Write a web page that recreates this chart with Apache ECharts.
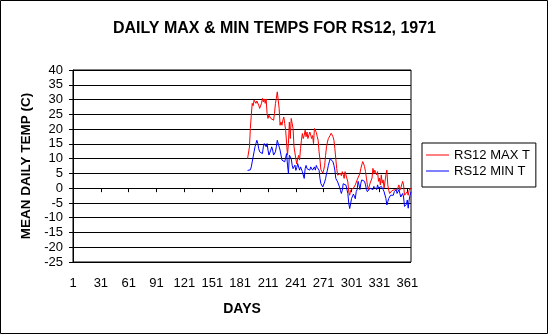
<!DOCTYPE html>
<html>
<head>
<meta charset="utf-8">
<script src="https://cdn.jsdelivr.net/npm/echarts@6/dist/echarts.min.js"></script>
<style>
  html, body { margin: 0; padding: 0; background: #fff; }
  #chart { width: 549px; height: 335px; }
</style>
</head>
<body>
<div id="chart"></div>
<script>
// Daily temperatures at station RS12, 1971 (degrees C)
const firstDay = 189;          // first day of year with readings
const dayCount = 365;

const maxTemps = [
  10.0, 10.5, 13.9, 20.2, 24.7, 28.7, 27.9, 29.8, 30.2, 28.7,
  29.5, 29.2, 28.1, 27.0, 27.5, 28.7, 30.4, 29.2, 30.2, 28.7,
  30.2, 25.3, 23.6, 24.7, 24.2, 23.6, 24.2, 24.0, 23.0, 25.3,
  28.7, 30.4, 32.6, 33.2, 27.0, 21.3, 22.4, 21.3, 23.0, 24.1,
  21.9, 19.6, 19.1, 11.2, 15.1, 22.4, 16.8, 23.6, 23.6, 20.2,
  14.0, 13.4, 9.9, 8.2, 10.0,
  11.1, 9.5, 13.4, 16.2, 18.5, 16.8, 17.9, 19.6, 17.4, 19.0,
  16.8, 17.2, 19.0, 18.0, 16.8, 17.8, 15.1, 20.2, 19.6, 18.9, 17.5,
  16.2, 12.3, 9.5, 6.2, 5.6, 5.1, 6.2, 7.7, 11.1, 14.0,
  15.6, 16.8, 16.3, 17.9, 18.6, 19.0, 17.4, 16.2, 13.4, 10.0, 6.6,
  4.4, 5.0, 3.8, 5.0, 4.2, 5.6, 4.6, 3.3, 5.6, 5.0,
  5.4, 2.1, -1.3, -2.4, -0.7, -1.2,
  -0.5, 0.0, -0.5, 1.1, 1.7, 2.8, 3.4, 2.8, 5.0, 6.7,
  7.9, 9.0, 8.2, 7.3, 5.6, 3.4, 1.1, -0.5, 0.0, 1.7,
  2.3, 3.4, 6.7, 5.0, 6.1, 5.2, 4.5, 5.6, 2.3, 3.4,
  1.1, 4.5, 1.7, 2.8, 0.0, 0.6, 4.5, 6.1, 1.1, -0.7,
  -1.8, -1.2, -1.0, -0.7, -1.2, -0.5, -0.7, 0.0, -0.7, -0.5,
  1.1, -0.7, 0.0, -0.5, 2.3, 1.1, -2.4, -2.9, -2.0, -1.2,
  -2.4, -0.7, 0.0, -0.5
];

const minTemps = [
  6.0, 6.0, 6.0, 6.2, 7.2, 8.9, 10.6, 12.3, 14.0, 15.1,
  16.2, 15.1, 13.4, 12.3, 11.7, 12.9, 11.7, 14.0, 15.1, 15.1,
  14.0, 15.1, 12.9, 11.2, 11.7, 12.9, 14.0, 12.9, 11.2, 11.7,
  12.3, 14.0, 16.2, 16.8, 15.6, 12.9, 11.2, 9.5, 8.9, 8.9,
  8.9, 9.5, 11.7, 7.8, 5.0, 11.2, 10.6, 10.0, 7.8, 6.6,
  6.0, 7.8, 6.0, 7.0, 8.3,
  8.3, 6.1, 7.2, 7.7, 5.6, 6.1, 3.3, 6.6, 7.7, 6.6,
  7.2, 6.6, 6.1, 7.2, 6.6, 6.1, 6.6, 7.2, 6.1, 7.7, 7.0,
  7.2, 6.1, 3.2, 1.5, 1.0, 0.4, 0.4, 2.1, 3.2, 4.9,
  6.1, 7.7, 8.9, 10.0, 10.3, 10.6, 8.9, 7.7, 6.1, 3.3, 2.8,
  2.1, 1.5, 0.4, -0.7, -1.8, -0.7, 1.5, 1.0, 2.1, 1.0,
  0.4, -1.8, -5.2, -6.9, -5.2, -3.5,
  -3.0, -2.0, -1.5, -3.6, -1.2, -0.5, 2.3, 1.1, -0.5, 1.7,
  2.8, 3.4, 3.0, 2.3, 1.1, -0.5, -1.2, -1.8, -1.2, 0.0,
  0.6, 0.0, -0.5, 0.6, 0.0, 0.3, -0.5, 1.1, 0.0, -0.5,
  0.0, 0.6, 0.0, -0.5, -1.2, -1.8, -3.5, -5.7, -4.6, -3.5,
  -3.0, -2.4, -2.0, -1.8, -2.4, -1.2, -1.8, -0.5, -1.8, -1.2,
  -0.5, -1.8, -3.0, -2.4, -1.8, -3.0, -6.2, -6.8, -5.5, -4.0,
  -6.8, -4.0, -2.4, -1.2
];

const seriesNames = ['RS12 MAX T', 'RS12 MIN T'];
const seriesColors = ['#ff0000', '#0000ff'];

// Day-of-year categories 1..365
const days = [];
for (let d = 1; d <= dayCount; d++) days.push(String(d));

// Place readings on the full-year axis; days without data stay empty
function toYear(values) {
  const out = new Array(dayCount).fill(null);
  values.forEach((v, i) => { out[firstDay - 1 + i] = v; });
  return out;
}

const FONT = "'Liberation Sans', Arial, sans-serif";

const chart = echarts.init(document.getElementById('chart'), null, { renderer: 'canvas' });
chart.setOption({
  animation: false,
  backgroundColor: '#ffffff',
  title: {
    text: 'DAILY MAX & MIN TEMPS FOR RS12, 1971',
    left: 'center',
    top: 16,
    textStyle: { fontFamily: FONT, fontSize: 16, fontWeight: 'bold', color: '#000' }
  },
  legend: {
    orient: 'vertical',
    left: 422,
    top: 143,
    padding: [5, 6, 9, 4],
    itemGap: 2,
    itemWidth: 23,
    itemHeight: 1,
    icon: 'rect',
    borderColor: '#000',
    borderWidth: 1,
    backgroundColor: '#fff',
    textStyle: { fontFamily: FONT, fontSize: 13, color: '#000', lineHeight: 14 },
    data: seriesNames
  },
  grid: {
    left: 73, right: 138, top: 70, bottom: 73,
    show: true,
    borderColor: '#000',
    borderWidth: 1,
    backgroundColor: '#fff'
  },
  xAxis: {
    type: 'category',
    data: days,
    boundaryGap: false,
    name: 'DAYS',
    nameLocation: 'middle',
    nameGap: 40,
    nameTextStyle: { fontFamily: FONT, fontSize: 14, fontWeight: 'bold', color: '#000' },
    axisLine: { lineStyle: { color: '#000', width: 1 } },
    axisTick: { interval: 29, length: 4, lineStyle: { color: '#000' } },
    axisLabel: { interval: 29, margin: 15, fontFamily: FONT, fontSize: 13, color: '#000' },
    splitLine: { show: false }
  },
  yAxis: {
    type: 'value',
    min: -25,
    max: 40,
    interval: 5,
    name: 'MEAN DAILY TEMP (C)',
    nameLocation: 'middle',
    nameGap: 40,
    nameTextStyle: { fontFamily: FONT, fontSize: 13.5, fontWeight: 'bold', color: '#000' },
    axisLine: { show: true, lineStyle: { color: '#000', width: 1 } },
    axisTick: { show: true, length: 4, lineStyle: { color: '#000' } },
    axisLabel: { margin: 10, fontFamily: FONT, fontSize: 13, color: '#000' },
    splitLine: { show: true, lineStyle: { color: '#000', width: 1 } }
  },
  series: [
    {
      name: seriesNames[0],
      type: 'line',
      data: toYear(maxTemps),
      symbol: 'none',
      connectNulls: false,
      color: seriesColors[0],
      lineStyle: { width: 1, color: seriesColors[0] }
    },
    {
      name: seriesNames[1],
      type: 'line',
      data: toYear(minTemps),
      symbol: 'none',
      connectNulls: false,
      color: seriesColors[1],
      lineStyle: { width: 1, color: seriesColors[1] }
    }
  ],
  graphic: [
    {
      type: 'rect',
      shape: { x: 0.5, y: 0.5, width: 547, height: 333 },
      style: { fill: null, stroke: '#000', lineWidth: 1 },
      silent: true,
      z: 100
    }
  ]
});
</script>
</body>
</html>
